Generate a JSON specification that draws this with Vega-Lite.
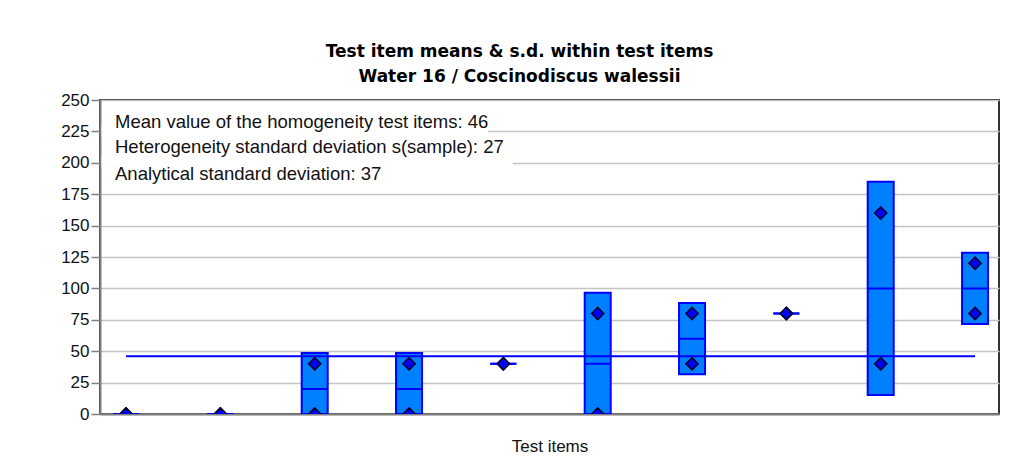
{
  "$schema": "https://vega.github.io/schema/vega-lite/v6.json",
  "autosize": "none",
  "width": 899,
  "height": 314,
  "padding": {"left": 100, "top": 100, "right": 35, "bottom": 59},
  "background": "white",
  "title": {
    "text": ["Test item means & s.d. within test items", "Water 16 / Coscinodiscus walessii"],
    "font": "DejaVu Sans",
    "fontSize": 17,
    "fontWeight": "bold",
    "color": "#000000",
    "lineHeight": 25,
    "anchor": "middle",
    "frame": "group",
    "dx": -30,
    "offset": 5
  },
  "config": {
    "view": {"stroke": "#333333", "strokeWidth": 2},
    "scale": {"continuousPadding": 0},
    "axis": {
      "domainColor": "#808080",
      "domainWidth": 2,
      "tickColor": "#808080",
      "tickWidth": 1.5,
      "tickSize": 9,
      "labelFont": "Liberation Sans",
      "labelFontSize": 17,
      "labelColor": "#111111",
      "labelPadding": 2,
      "labelOverlap": false,
      "titleFont": "Liberation Sans",
      "titleFontSize": 17,
      "titleFontWeight": "normal",
      "titleColor": "#111111",
      "gridColor": "#c4c4c4",
      "gridWidth": 1.5
    },
    "axisX": {"grid": false, "labels": false, "ticks": false, "titlePadding": 24},
    "axisY": {"grid": true}
  },
  "datasets": {
    "items": [
      {"item": 1, "mean": 0, "lo": 0, "hi": 0},
      {"item": 2, "mean": 0, "lo": 0, "hi": 0},
      {"item": 3, "mean": 20, "lo": 0, "hi": 48.5},
      {"item": 4, "mean": 20, "lo": 0, "hi": 48.5},
      {"item": 5, "mean": 40, "lo": 40, "hi": 40},
      {"item": 6, "mean": 40, "lo": 0, "hi": 96.6},
      {"item": 7, "mean": 60, "lo": 31.7, "hi": 88.3},
      {"item": 8, "mean": 80, "lo": 80, "hi": 80},
      {"item": 9, "mean": 100, "lo": 15.1, "hi": 184.9},
      {"item": 10, "mean": 100, "lo": 71.7, "hi": 128.3}
    ],
    "points": [
      {"item": 1, "value": 0}, {"item": 1, "value": 0},
      {"item": 2, "value": 0}, {"item": 2, "value": 0},
      {"item": 3, "value": 0}, {"item": 3, "value": 40},
      {"item": 4, "value": 0}, {"item": 4, "value": 40},
      {"item": 5, "value": 40}, {"item": 5, "value": 40},
      {"item": 6, "value": 0}, {"item": 6, "value": 80},
      {"item": 7, "value": 40}, {"item": 7, "value": 80},
      {"item": 8, "value": 80}, {"item": 8, "value": 80},
      {"item": 9, "value": 40}, {"item": 9, "value": 160},
      {"item": 10, "value": 80}, {"item": 10, "value": 120}
    ],
    "one": [{}]
  },
  "layer": [
    {
      "data": {"name": "items"},
      "mark": {"type": "bar", "size": 26, "fill": "#0080ff", "stroke": "#0000ff", "strokeWidth": 2, "clip": true},
      "encoding": {
        "x": {"field": "item", "type": "quantitative", "title": "Test items", "scale": {"domain": [0.724, 10.254], "nice": false, "zero": false, "padding": 0}},
        "y": {"field": "lo", "type": "quantitative", "title": null, "scale": {"domain": [0, 250], "nice": false}, "axis": {"values": [0, 25, 50, 75, 100, 125, 150, 175, 200, 225, 250], "tickCount": 11}},
        "y2": {"field": "hi"}
      }
    },
    {
      "data": {"name": "one"},
      "mark": {"type": "rect", "fill": "white", "stroke": null},
      "encoding": {
        "x": {"datum": 0.74, "type": "quantitative"},
        "x2": {"datum": 4.84},
        "y": {"datum": 221, "type": "quantitative", "axis": {"values": [0, 25, 50, 75, 100, 125, 150, 175, 200, 225, 250], "tickCount": 11}},
        "y2": {"datum": 229}
      }
    },
    {
      "data": {"name": "one"},
      "mark": {"type": "rect", "fill": "white", "stroke": null},
      "encoding": {
        "x": {"datum": 0.74, "type": "quantitative"},
        "x2": {"datum": 5.1},
        "y": {"datum": 196, "type": "quantitative", "axis": {"values": [0, 25, 50, 75, 100, 125, 150, 175, 200, 225, 250], "tickCount": 11}},
        "y2": {"datum": 204}
      }
    },
    {
      "data": {"name": "items"},
      "mark": {"type": "bar", "size": 26, "fill": "#0000ff", "stroke": "#0000ff", "strokeWidth": 2, "clip": true},
      "encoding": {
        "x": {"field": "item", "type": "quantitative", "title": "Test items"},
        "y": {"field": "mean", "type": "quantitative", "title": null, "axis": {"values": [0, 25, 50, 75, 100, 125, 150, 175, 200, 225, 250], "tickCount": 11}},
        "y2": {"field": "mean"}
      }
    },
    {
      "data": {"name": "one"},
      "mark": {"type": "rule", "color": "#0000ff", "strokeWidth": 2},
      "encoding": {
        "x": {"datum": 1, "type": "quantitative"},
        "x2": {"datum": 10},
        "y": {"datum": 46, "type": "quantitative", "axis": {"values": [0, 25, 50, 75, 100, 125, 150, 175, 200, 225, 250], "tickCount": 11}}
      }
    },
    {
      "data": {"name": "points"},
      "mark": {"type": "point", "shape": "diamond", "size": 150, "filled": true, "fill": "#0000ff", "stroke": "#000022", "strokeWidth": 1.5, "opacity": 1, "clip": true},
      "encoding": {
        "x": {"field": "item", "type": "quantitative", "title": "Test items"},
        "y": {"field": "value", "type": "quantitative", "title": null, "axis": {"values": [0, 25, 50, 75, 100, 125, 150, 175, 200, 225, 250], "tickCount": 11}}
      }
    },
    {
      "data": {"name": "one"},
      "mark": {"type": "text", "text": "Mean value of the homogeneity test items: 46", "font": "Liberation Sans", "fontSize": 18.5, "align": "left", "baseline": "middle", "color": "#111111"},
      "encoding": {"x": {"datum": 0.883, "type": "quantitative"}, "y": {"datum": 232.5, "type": "quantitative", "axis": {"values": [0, 25, 50, 75, 100, 125, 150, 175, 200, 225, 250], "tickCount": 11}}}
    },
    {
      "data": {"name": "one"},
      "mark": {"type": "text", "text": "Heterogeneity standard deviation s(sample): 27", "font": "Liberation Sans", "fontSize": 18.5, "align": "left", "baseline": "middle", "color": "#111111"},
      "encoding": {"x": {"datum": 0.883, "type": "quantitative"}, "y": {"datum": 212.6, "type": "quantitative", "axis": {"values": [0, 25, 50, 75, 100, 125, 150, 175, 200, 225, 250], "tickCount": 11}}}
    },
    {
      "data": {"name": "one"},
      "mark": {"type": "text", "text": "Analytical standard deviation: 37", "font": "Liberation Sans", "fontSize": 18.5, "align": "left", "baseline": "middle", "color": "#111111"},
      "encoding": {"x": {"datum": 0.883, "type": "quantitative"}, "y": {"datum": 191.1, "type": "quantitative", "axis": {"values": [0, 25, 50, 75, 100, 125, 150, 175, 200, 225, 250], "tickCount": 11}}}
    }
  ]
}
